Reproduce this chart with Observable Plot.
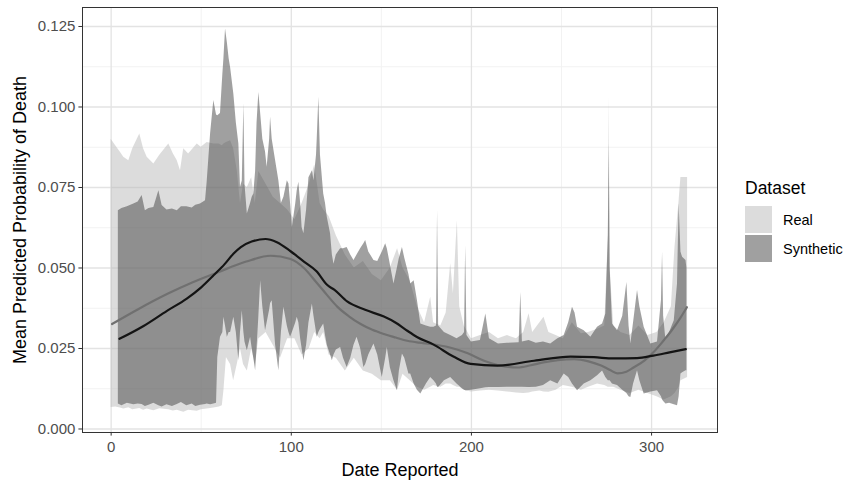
<!DOCTYPE html>
<html><head><meta charset="utf-8">
<script src="https://cdn.jsdelivr.net/npm/d3@7"></script>
<script src="https://cdn.jsdelivr.net/npm/@observablehq/plot@0.6"></script>
<style>
body{margin:0;background:#fff;}
#chart{width:845px;height:483px;}
</style></head><body><div id="chart"></div>
<script>
// ---- data ----
const datasets = ["Real", "Synthetic"];
const xTicks = [0, 100, 200, 300];
const xMinor = [50, 150, 250];
const yTicks = [0, 0.025, 0.05, 0.075, 0.1, 0.125];
const yMinor = [0.0125, 0.0375, 0.0625, 0.0875, 0.1125];

// Real ribbon: [date, low, high]
const realRibbon = [
[0,.0067,.0900],[2.5,.0068,.0880],[5.2,.0065,.0859],[7,.0062,.0844],[9.8,.0066,.0833],[12,.0060,.0870],
[15.9,.0064,.0916],[18,.0058,.0870],[20,.0062,.0844],[23.7,.0057,.0823],[27,.0063,.0850],[32,.0060,.0885],
[34.5,.0056,.0855],[36.7,.0058,.0833],[38.5,.0055,.0802],[40.3,.0052,.0870],[43,.0058,.0854],[47.8,.0055,.0885],
[50,.0060,.0875],[53.3,.0062,.0890],[57,.0065,.0885],[60,.0068,.0885],[61.7,.0072,.0880],[62.6,.0119,.0885],
[64,.0222,.0890],[66.3,.0200,.0895],[68,.0150,.0870],[70,.0200,.0802],[71.8,.0250,.0700],[73.5,.0200,.0760],
[75.6,.0180,.0750],[78,.0250,.0780],[80,.0200,.0700],[82,.0280,.0800],[86,.0300,.0760],[90,.0260,.0720],
[94,.0220,.0700],[98,.0280,.0680],[102,.0280,.0650],[106,.0230,.0700],[110,.0250,.0760],[113,.0300,.0820],
[116,.0280,.0700],[118,.0300,.0680],[121,.0230,.0660],[125,.0220,.0600],[130,.0180,.0540],[135,.0220,.0500],
[140,.0180,.0520],[145,.0170,.0480],[150,.0150,.0460],[155,.0150,.0500],[159,.0120,.0560],[162,.0170,.0500],
[166,.0150,.0460],[170,.0130,.0380],[174,.0120,.0330],[177.4,.0130,.0409],[179,.0135,.0330],[183,.0130,.0320],
[186,.0140,.0360],[188.5,.0140,.0513],[190,.0135,.0420],[192.2,.0130,.0647],[193.5,.0130,.0380],[196,.0120,.0320],
[200,.0115,.0280],[205,.0118,.0290],[210,.0120,.0300],[215,.0118,.0280],[220,.0115,.0290],[225,.0112,.0280],
[229,.0110,.0300],[232,.0112,.0358],[234,.0115,.0300],[238,.0118,.0330],[240.3,.0115,.0347],[243,.0114,.0300],
[247,.0120,.0290],[251,.0135,.0280],[256,.0130,.0330],[261,.0120,.0296],[265,.0130,.0300],[270,.0140,.0310],
[274,.0135,.0320],[276,.0130,.0600],[276.5,.0130,.1030],[277,.0130,.0500],[279,.0130,.0320],[283,.0120,.0300],
[288,.0110,.0290],[293,.0120,.0320],[298,.0110,.0290],[303,.0100,.0300],[307,.0090,.0330],[311,.0100,.0380],
[313,.0110,.0564],[315.3,.0130,.0709],[316.3,.0150,.0781],[320,.0160,.0781]
];

// Synthetic ribbon: [date, low, high]
const synthRibbon = [
[4,.0078,.0678],[6,.0072,.0685],[9,.0080,.0690],[12.6,.0075,.0699],[15,.0078,.0705],[17.2,.0076,.0725],
[19,.0070,.0678],[21,.0074,.0685],[23.7,.0080,.0688],[26.5,.0072,.0740],[28.3,.0068,.0694],[31,.0075,.0680],
[34,.0070,.0683],[36.7,.0076,.0678],[39,.0082,.0690],[42,.0072,.0690],[45,.0078,.0686],[47,.0070,.0695],
[49.6,.0074,.0699],[52.4,.0076,.0709],[53.3,.0078,.0766],[55.2,.0075,.0916],[57,.0078,.1020],[58.5,.0080,.0975],
[59.2,.0222,.0973],[60.7,.0285,.0980],[62,.0300,.1100],[62.6,.0347,.1150],[63.5,.0320,.1242],[64.5,.0285,.1200],
[65.5,.0300,.1150],[66.3,.0300,.1123],[68.1,.0347,.1040],[69.5,.0300,.0950],[70.9,.0212,.0885],[71.8,.0300,.0750],
[72.8,.0367,.0770],[73.7,.0300,.1010],[74.3,.0270,.0760],[75.6,.0243,.0668],[77.4,.0285,.0700],[78.3,.0250,.0720],
[79.2,.0220,.0730],[80.2,.0181,.0800],[81,.0250,.0950],[82,.0350,.1045],[83,.0460,.0980],[84.2,.0380,.0900],
[85.7,.0305,.0860],[86.6,.0330,.0813],[88,.0370,.0900],[88.5,.0390,.0968],[89.4,.0398,.0900],[91.3,.0260,.0833],
[93.1,.0181,.0771],[94.5,.0300,.0700],[95.9,.0378,.0720],[97.8,.0320,.0771],[98.7,.0300,.0761],[99.6,.0285,.0700],
[100.6,.0300,.0626],[102.5,.0330,.0700],[103.3,.0347,.0740],[104.2,.0330,.0766],[105.2,.0280,.0700],[106,.0250,.0626],
[107,.0212,.0606],[108.5,.0260,.0680],[109.8,.0330,.0780],[111.7,.0388,.0802],[112.6,.0350,.0771],[114,.0300,.0850],
[114.4,.0285,.0900],[115.3,.0300,.1030],[116.2,.0310,.0850],[118,.0326,.0730],[119,.0290,.0700],[120,.0260,.0657],
[121.8,.0230,.0606],[122.8,.0212,.0540],[123.7,.0230,.0512],[125,.0245,.0540],[127.4,.0253,.0560],[129,.0220,.0560],
[131,.0191,.0564],[133,.0220,.0540],[134.8,.0260,.0523],[136.5,.0285,.0540],[138.5,.0250,.0560],[140.3,.0191,.0575],
[141.3,.0200,.0585],[143,.0230,.0550],[145.9,.0264,.0523],[148,.0230,.0520],[150.5,.0160,.0550],[152.4,.0220,.0575],
[153.3,.0253,.0560],[155,.0190,.0510],[157,.0150,.0450],[158.9,.0119,.0500],[160,.0180,.0530],[161.7,.0233,.0564],
[163,.0220,.0530],[165.3,.0171,.0480],[166.3,.0171,.0450],[168.2,.0140,.0460],[170,.0120,.0400],
[171.9,.0109,.0326],[175,.0140,.0320],[177.4,.0160,.0316],[179.2,.0150,.0316],[180.6,.0140,.0320],[181.2,.0130,.0678],
[181.8,.0129,.0320],[185,.0150,.0300],[188.5,.0160,.0290],[192,.0140,.0280],[195,.0125,.0290],[196.2,.0120,.0300],
[196.8,.0119,.0569],[197.5,.0119,.0290],[200,.0120,.0270],[205,.0125,.0275],[208,.0128,.0357],[210,.0129,.0280],
[215,.0129,.0264],[220,.0130,.0266],[226.5,.0130,.0268],[227.4,.0130,.0424],[228.3,.0130,.0270],[232,.0129,.0275],
[236,.0130,.0266],[240,.0135,.0270],[244,.0150,.0264],[248,.0140,.0280],[251.5,.0171,.0290],[254,.0160,.0330],
[256.1,.0140,.0378],[257.5,.0130,.0360],[258.9,.0119,.0316],[262.6,.0140,.0305],[266.3,.0150,.0285],[270,.0165,.0316],
[272.8,.0180,.0326],[274.6,.0160,.0357],[276,.0150,.0600],[276.5,.0150,.0885],[277,.0150,.0500],[278.3,.0140,.0326],
[281.1,.0135,.0305],[284,.0120,.0350],[286.3,.0110,.0455],[287.5,.0100,.0320],[288.5,.0098,.0264],[290,.0140,.0330],
[292.2,.0181,.0430],[293.5,.0150,.0380],[295.9,.0109,.0316],[299.6,.0115,.0264],[303.3,.0119,.0270],[305.5,.0100,.0400],
[306.1,.0090,.0549],[306.7,.0085,.0350],[308,.0078,.0274],[310,.0080,.0300],[312.6,.0075,.0336],[314.4,.0072,.0450],
[315.3,.0100,.0699],[316.3,.0171,.0550],[317.2,.0175,.0533],[319.1,.0181,.0523],[319.6,.0181,.0500]
];

// Smoothed means: [date, value]
const realSmooth = [
[0.5,.0326],[15,.0372],[31,.0419],[45,.0455],[59,.0486],[75,.0520],[88.5,.0538],[99.6,.0528],[107,.0500],
[114,.0455],[120,.0415],[125.5,.0380],[132,.0350],[138.5,.0326],[145,.0308],[151.4,.0295],[158,.0284],
[164.4,.0274],[171,.0268],[177.4,.0264],[188,.0253],[198,.0235],[207,.0212],[215,.0198],[225.5,.0191],
[233,.0198],[240,.0207],[248,.0214],[257,.0217],[265,.0210],[272,.0197],[277,.0183],[281,.0173],[286,.0178],
[290,.0191],[296,.0212],[301,.0238],[306,.0270],[311,.0305],[316,.0345],[319.6,.0378]
];
const synthSmooth = [
[4.6,.0280],[18,.0320],[31,.0367],[42,.0405],[50,.0440],[57,.0478],[63,.0512],[68,.0545],[72,.0565],
[78,.0582],[85.7,.0590],[92,.0580],[99.6,.0552],[107,.0520],[114,.0490],[120,.0447],[124,.0432],[131,.0396],
[141,.0370],[151.4,.0349],[158,.0330],[164.4,.0305],[170,.0285],[179,.0262],[190,.0225],[199.6,.0202],
[214.4,.0197],[234.8,.0212],[255,.0225],[268,.0223],[279,.0219],[292,.0220],[301,.0228],[310,.0238],[319,.0248]
];

const fills = {Real: "#b9b9b9", Synthetic: "#414141"};
const legendFills = {Real: "#dcdcdc", Synthetic: "#a0a0a0"};

const font = "'Liberation Sans', Arial, Helvetica, sans-serif";

const plot = Plot.plot({
  width: 845, height: 483,
  marginLeft: 82, marginRight: 128, marginTop: 7, marginBottom: 51,
  style: {fontFamily: font, fontSize: "15px", background: "#fff", color: "#333"},
  x: {domain: [-15.9, 336.6]},
  y: {domain: [-0.00109, 0.1309]},
  marks: [
    Plot.ruleX(xMinor, {stroke: "#f2f2f2", strokeWidth: 1}),
    Plot.ruleY(yMinor, {stroke: "#f2f2f2", strokeWidth: 1}),
    Plot.ruleX(xTicks, {stroke: "#e3e3e3", strokeWidth: 1.3}),
    Plot.ruleY(yTicks, {stroke: "#e3e3e3", strokeWidth: 1.3}),
    Plot.areaY(realRibbon, {x: d => d[0], y1: d => d[1], y2: d => d[2], fill: fills.Real, fillOpacity: 0.5}),
    Plot.areaY(synthRibbon, {x: d => d[0], y1: d => d[1], y2: d => d[2], fill: fills.Synthetic, fillOpacity: 0.5}),
    Plot.line(realSmooth, {x: d => d[0], y: d => d[1], stroke: "#707070", strokeWidth: 2.2, curve: "monotone-x"}),
    Plot.line(synthSmooth, {x: d => d[0], y: d => d[1], stroke: "#141414", strokeWidth: 2.2, curve: "monotone-x"}),
    Plot.frame({stroke: "#333", strokeWidth: 1}),
    Plot.axisX({ticks: xTicks, tickSize: 3.6, tickPadding: 5, stroke: "#333", fill: "#4d4d4d", label: null, tickFormat: d3.format("d")}),
    Plot.axisY({ticks: yTicks, tickSize: 3.6, tickPadding: 3.5, stroke: "#333", fill: "#4d4d4d", label: null, tickFormat: d3.format(".3f")}),
    Plot.text(["Date Reported"], {frameAnchor: "bottom", dy: 37.5, fontSize: 18, fill: "#000", lineAnchor: "middle"}),
    Plot.text(["Mean Predicted Probability of Death"], {frameAnchor: "left", dx: -62, rotate: -90, fontSize: 18, fill: "#000", lineAnchor: "middle", textAnchor: "middle"})
  ]
});

// legend drawn into the SVG's right margin
const svg = d3.select(plot);
const lg = svg.append("g").attr("font-family", font).attr("text-anchor", "start");
lg.append("text").attr("x", 745).attr("y", 193.5).attr("font-size", 17.5).attr("fill", "#000").text("Dataset");
datasets.forEach((name, i) => {
  const y0 = 206 + i * 29;
  lg.append("rect").attr("x", 745).attr("y", y0).attr("width", 27).attr("height", 27).attr("fill", legendFills[name]);
  lg.append("text").attr("x", 783).attr("y", y0 + 13.5).attr("dy", "0.35em").attr("font-size", 14.5).attr("fill", "#000").text(name);
});

document.getElementById("chart").appendChild(plot);
</script>
</body></html>
